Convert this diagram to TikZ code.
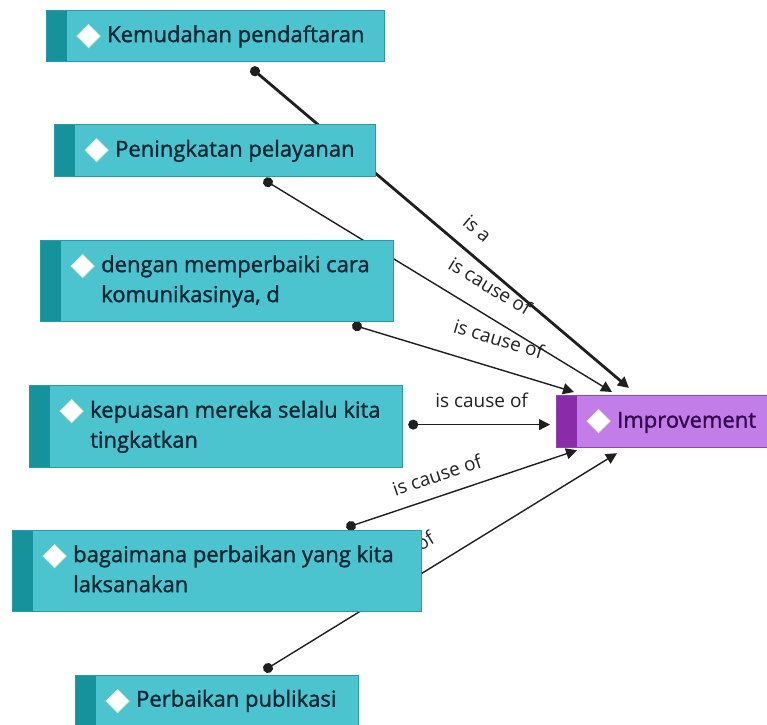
\documentclass[tikz,border=0pt]{standalone}
\usepackage{fontspec}
\setmainfont{Open Sans}
\newfontfamily\boxfont[FakeBold=1.4]{Open Sans}
\usetikzlibrary{arrows.meta}
\pgfdeclarelayer{bg}
\pgfsetlayers{bg,main}
\definecolor{boxfill}{HTML}{4CC4CF}
\definecolor{boxdark}{HTML}{15929B}
\definecolor{boxline}{HTML}{2A9AA4}
\definecolor{impfill}{HTML}{C27DE8}
\definecolor{impdark}{HTML}{8A2BA9}
\definecolor{impline}{HTML}{8E46B4}
\definecolor{txtcol}{HTML}{0B2733}
\definecolor{imptxt}{HTML}{35084F}
\definecolor{lblcol}{HTML}{222222}
\definecolor{diaedge}{HTML}{DDEFC8}
\begin{document}
\begin{tikzpicture}[x=1pt,y=1pt,
  stripe/.style={path picture={
    \fill[#1] (path picture bounding box.north west) rectangle ([xshift=20pt]path picture bounding box.south west);
    \filldraw[fill=white, draw=diaedge, line width=1pt]
      ([shift={(42pt,-14pt)}]path picture bounding box.north west) -- ++(11.5pt,-11.5pt) -- ++(-11.5pt,-11.5pt) -- ++(-11.5pt,11.5pt) -- cycle;}},
  cbox/.style={draw=boxline, line width=1.2pt, fill=boxfill, stripe=boxdark, anchor=north west, inner sep=0pt},
  pbox/.style={draw=impline, line width=1.2pt, fill=impfill, stripe=impdark, anchor=north west, inner sep=0pt},
  txt/.style={inner sep=0pt, align=left, text=txtcol, anchor=west, font=\boxfont\fontsize{22}{30}\selectfont},
  conn/.style={draw=black!88, line width=1.4pt, {Circle[length=10pt]}-{Triangle[length=11pt,width=11pt]}, shorten <=-5pt},
  lbl/.style={sloped, inner sep=2pt, text=lblcol, font=\fontsize{19}{22}\selectfont}
]
\useasboundingbox (0,0) rectangle (767,-724);

% boxes
\node[cbox, minimum width=338pt, minimum height=51pt] (b1) at (46,-10) {};
\node[txt] (t1) at ([xshift=61pt]b1.west) {\strut Kemudahan pendaftaran};
\node[cbox, minimum width=321pt, minimum height=52pt] (b2) at (54,-124) {};
\node[txt] (t2) at ([xshift=61pt]b2.west) {\strut Peningkatan pelayanan};
\node[cbox, minimum width=353pt, minimum height=81pt] (b3) at (40,-240) {};
\node[txt] (t3) at ([xshift=61pt]b3.west) {\strut dengan memperbaiki cara\\\strut komunikasinya, d};
\node[cbox, minimum width=373pt, minimum height=82pt] (b4) at (29,-385) {};
\node[txt] (t4) at ([xshift=61pt]b4.west) {\strut kepuasan mereka selalu kita\\\strut tingkatkan};
\node[cbox, minimum width=409pt, minimum height=81pt] (b5) at (12,-530) {};
\node[txt] (t5) at ([xshift=61pt]b5.west) {\strut bagaimana perbaikan yang kita\\\strut laksanakan};
\node[cbox, minimum width=283pt, minimum height=50pt] (b6) at (75,-675) {};
\node[txt] (t6) at ([xshift=61pt]b6.west) {\strut Perbaikan publikasi};
\node[pbox, minimum width=213pt, minimum height=52pt] (imp) at (556,-395) {};
\node[txt, text=imptxt] (ti) at ([xshift=61pt]imp.west) {\strut Improvement};

% connector end points
\coordinate (s1) at ([shift={(209pt,-9pt)}]b1.south west);
\coordinate (s2) at ([shift={(214pt,-5pt)}]b2.south west);
\coordinate (s3) at ([shift={(317pt,-4pt)}]b3.south west);
\coordinate (s4) at ([shift={(10pt,2pt)}]b4.east);
\coordinate (s5) at ([shift={(339pt,4pt)}]b5.north west);
\coordinate (s6) at ([shift={(193pt,7pt)}]b6.north west);
\coordinate (e1) at ([shift={(73pt,7pt)}]imp.north west);
\coordinate (e2) at ([shift={(56pt,3pt)}]imp.north west);
\coordinate (e3) at ([shift={(18pt,3pt)}]imp.north west);
\coordinate (e4) at ([shift={(-6pt,-3pt)}]imp.west);
\coordinate (e5) at ([shift={(21pt,-2pt)}]imp.south west);
\coordinate (e6) at ([shift={(61pt,-5pt)}]imp.south west);

\begin{pgfonlayer}{bg}
\fill[white] (0,0) rectangle (767,-724);
\draw[conn, line width=2.8pt] (s1) -- node[lbl, pos=0.554, above=13pt] {is a} (e1);
\draw[conn] (s2) -- node[lbl, pos=0.605, above=17pt] {is cause of} (e2);
\draw[conn] (s3) -- node[lbl, pos=0.614, above=19pt] {is cause of} (e3);
\draw[conn] (s4) -- node[lbl, pos=0.5, above=14pt] {is cause of} (e4);
\draw[conn] (s5) -- node[lbl, pos=0.41, above=11pt] {is cause of} (e5);
\draw[conn] (s6) -- node[lbl, pos=0.397, above=16pt] {is cause of} (e6);
\end{pgfonlayer}
\end{tikzpicture}
\end{document}
